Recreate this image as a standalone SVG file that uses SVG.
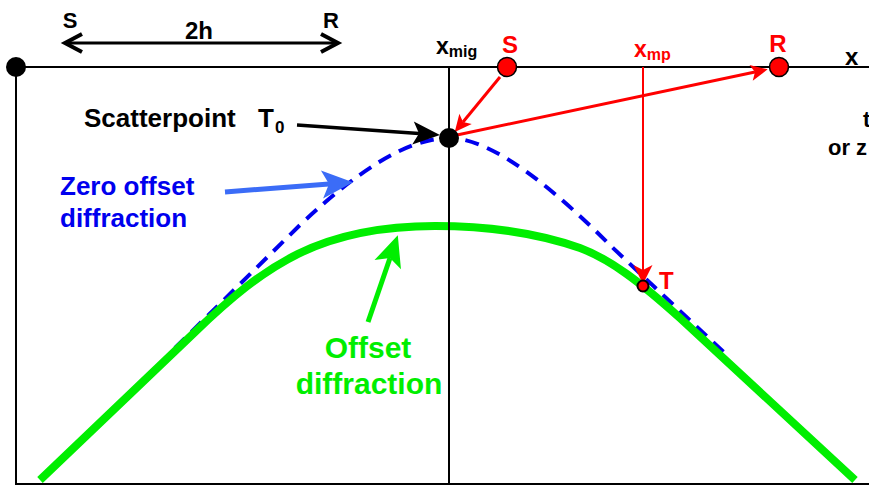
<svg xmlns="http://www.w3.org/2000/svg" width="869" height="485" viewBox="0 0 869 485">
<style>
text{font-family:"Liberation Sans",Arial,sans-serif;font-weight:bold}
.k{fill:#000}
.r{fill:#ff0000}
.b{fill:#0000ee}
.g{fill:#00ee00}
.axis{stroke:#000;stroke-width:2;fill:none}
</style>
<defs>
<marker id="mk2h" markerUnits="userSpaceOnUse" orient="auto-start-reverse" markerWidth="30" markerHeight="30" refX="0" refY="0" viewBox="-20 -15 30 30" overflow="visible">
<path d="M-17,-9 L0,0 L-17,9" fill="none" stroke="#000" stroke-width="4"/>
</marker>
<marker id="mkK" markerUnits="userSpaceOnUse" orient="auto" markerWidth="40" markerHeight="40" refX="0" refY="0" viewBox="-20 -20 40 40" overflow="visible">
<path d="M21,0 L-6,-11.5 L0,0 L-6,11.5 Z" fill="#000"/>
</marker>
<marker id="mkB" markerUnits="userSpaceOnUse" orient="auto" markerWidth="40" markerHeight="40" refX="0" refY="0" viewBox="-20 -20 40 40" overflow="visible">
<path d="M24,0 L-7,-14 L0,0 L-7,14 Z" fill="#3b6cf7"/>
</marker>
<marker id="mkG" markerUnits="userSpaceOnUse" orient="auto" markerWidth="40" markerHeight="40" refX="0" refY="0" viewBox="-20 -20 40 40" overflow="visible">
<path d="M24,0 L-7,-14 L0,0 L-7,14 Z" fill="#00ee00"/>
</marker>
<marker id="mkR" markerUnits="userSpaceOnUse" orient="auto" markerWidth="40" markerHeight="40" refX="0" refY="0" viewBox="-20 -20 40 40" overflow="visible">
<path d="M13,0 L-4,-8 L0,0 L-4,8 Z" fill="#ff0000"/>
</marker>
<marker id="mkR2" markerUnits="userSpaceOnUse" orient="auto" markerWidth="40" markerHeight="40" refX="0" refY="0" viewBox="-20 -20 40 40" overflow="visible">
<path d="M14,0 L-5,-9.5 L0,0 L-5,9.5 Z" fill="#ff0000"/>
</marker>
</defs>

<g id="curves">
<path id="zero-offset" d="M175,348 L300,225 C360,168 410,138 449,138 C495,138 560,195 612,247 L729,357" fill="none" stroke="#0000ee" stroke-width="4" stroke-dasharray="14 9"/>
<path id="offset" d="M40,480 L195,332 C265,265 320,226 435,226 C490,226 540,234 580,248 C610,259 640,282 680,318 L855,480" fill="none" stroke="#00ee00" stroke-width="8"/>
</g>

<g id="frame">
<line class="axis" x1="16" y1="67" x2="869" y2="67"/>
<line class="axis" x1="16" y1="67" x2="16" y2="485"/>
<line class="axis" x1="16" y1="484" x2="869" y2="484"/>
<line class="axis" x1="449" y1="67" x2="449" y2="485"/>
</g>

<g id="connectors">
<line x1="65" y1="43" x2="338" y2="43" stroke="#000" stroke-width="3" marker-start="url(#mk2h)" marker-end="url(#mk2h)"/>
<line x1="297" y1="125" x2="419" y2="133.5" stroke="#000" stroke-width="3.5" marker-end="url(#mkK)"/>
<line x1="225" y1="192" x2="329" y2="184" stroke="#3b6cf7" stroke-width="5" marker-end="url(#mkB)"/>
<line x1="368" y1="322" x2="390" y2="258" stroke="#00ee00" stroke-width="5" marker-end="url(#mkG)"/>
<line x1="500" y1="77" x2="463" y2="122" stroke="#ff0000" stroke-width="3" marker-end="url(#mkR)"/>
<line x1="457" y1="135" x2="755" y2="72" stroke="#ff0000" stroke-width="3" marker-end="url(#mkR)"/>
<line x1="643" y1="67" x2="643" y2="270" stroke="#ff0000" stroke-width="2" marker-end="url(#mkR2)"/>
</g>

<g id="origin"><circle cx="16" cy="67" r="10" fill="#000"/></g>
<g id="scatterpoint">
<circle cx="449" cy="138" r="10" fill="#000"/>
<text class="k" x="84" y="127" font-size="26">Scatterpoint</text>
<text class="k" x="258" y="127" font-size="26">T</text>
<text class="k" x="275" y="133" font-size="17">0</text>
</g>
<g id="source">
<circle cx="507" cy="67" r="9.5" fill="#ff0000" stroke="#000" stroke-width="1.5"/>
<text class="r" x="510" y="53" font-size="24" text-anchor="middle">S</text>
</g>
<g id="receiver">
<circle cx="779" cy="67" r="9.5" fill="#ff0000" stroke="#000" stroke-width="1.5"/>
<text class="r" x="778" y="52" font-size="24" text-anchor="middle">R</text>
</g>
<g id="T">
<circle cx="643" cy="286" r="5.5" fill="#ff0000" stroke="#000" stroke-width="2"/>
<text class="r" x="659" y="289" font-size="24">T</text>
</g>
<g id="labels">
<text class="k" x="70" y="28" font-size="22" text-anchor="middle">S</text>
<text class="k" x="199" y="39" font-size="24" text-anchor="middle">2h</text>
<text class="k" x="331" y="28" font-size="22" text-anchor="middle">R</text>
<text class="k" x="436" y="54" font-size="23">x<tspan font-size="16" dy="3">mig</tspan></text>
<text class="r" x="634" y="57" font-size="23">x<tspan font-size="16" dy="3">mp</tspan></text>
<text class="k" x="845" y="65" font-size="24">x</text>
<text class="k" x="863" y="127" font-size="22">t</text>
<text class="k" x="828" y="155" font-size="22">or z</text>
<text class="b" x="60" y="195" font-size="26">Zero offset</text>
<text class="b" x="60" y="227" font-size="26">diffraction</text>
<text class="g" x="368" y="358" font-size="30" text-anchor="middle">Offset</text>
<text class="g" x="369" y="394" font-size="30" text-anchor="middle">diffraction</text>
</g>
</svg>
